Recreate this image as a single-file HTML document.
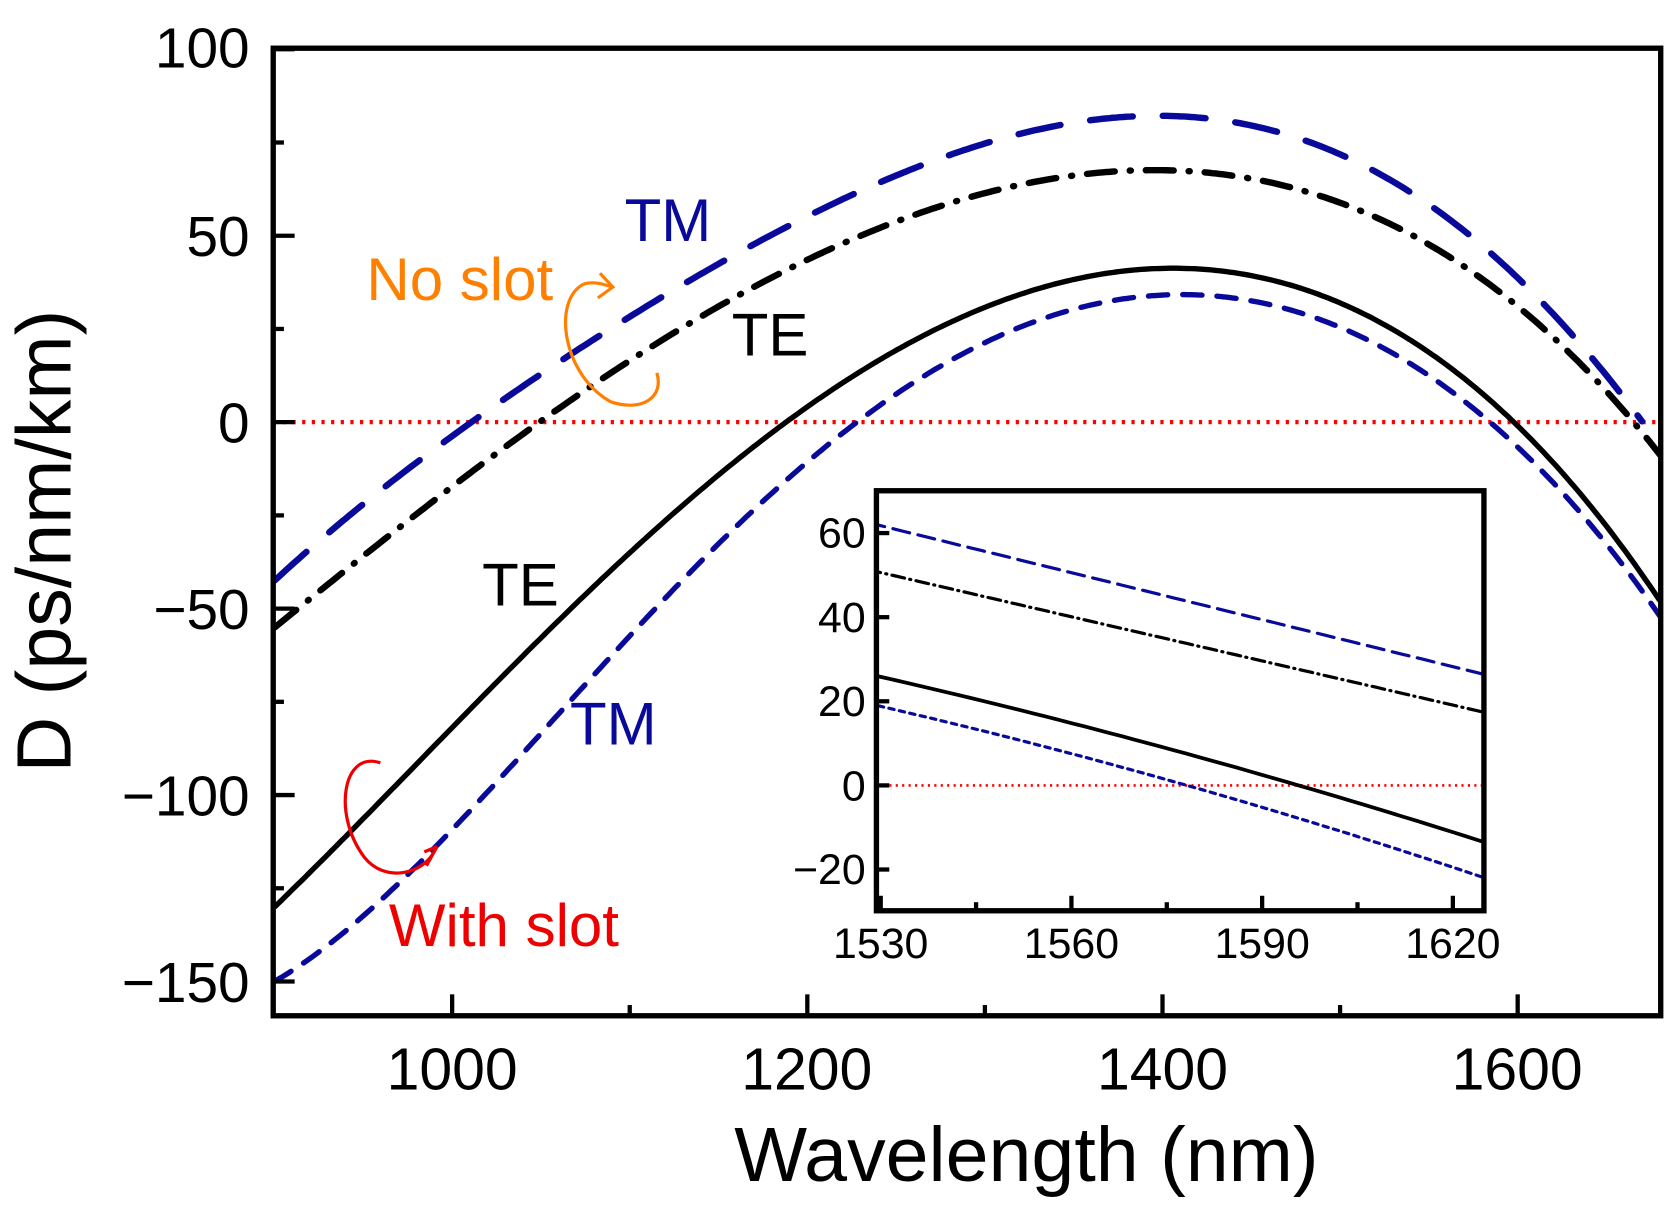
<!DOCTYPE html><html><head><style>html,body{margin:0;padding:0;background:#fff}svg{display:block}</style></head><body>
<svg id="s" width="1680" height="1214" viewBox="0 0 1568 1133" preserveAspectRatio="none" xmlns="http://www.w3.org/2000/svg" font-family="Liberation Sans, sans-serif">
<defs><clipPath id="mc"><rect x="255" y="45" width="1295" height="903"/></clipPath>
<clipPath id="ic"><rect x="818" y="458" width="567" height="392"/></clipPath></defs>
<g id="main" clip-path="url(#mc)"></g>
<rect x="255" y="45" width="1295" height="903" fill="none" stroke="#000" stroke-width="5"/>
<g id="ticks" stroke="#000" stroke-width="4"></g>
<g font-size="53" text-anchor="end">
<text x="233" y="63">100</text><text x="233" y="239">50</text><text x="233" y="413">0</text>
<text x="233" y="587">−50</text><text x="233" y="761">−100</text><text x="233" y="935">−150</text></g>
<g font-size="55" text-anchor="middle">
<text x="422" y="1017">1000</text><text x="753" y="1017">1200</text><text x="1085" y="1017">1400</text><text x="1416" y="1017">1600</text></g>
<text x="958" y="1102" font-size="72" text-anchor="middle">Wavelength (nm)</text>
<text transform="translate(66,505) rotate(-90)" font-size="72" text-anchor="middle">D (ps/nm/km)</text>
<text x="583" y="225" font-size="56" fill="#0a0a9a">TM</text>
<text x="342" y="280" font-size="56" fill="#ff8000">No slot</text>
<text x="683" y="332" font-size="56">TE</text>
<text x="450" y="565" font-size="56">TE</text>
<text x="532" y="695" font-size="56" fill="#0a0a9a">TM</text>
<text x="363" y="883" font-size="56" fill="#ee0000">With slot</text>
<path d="M545 265 C515 280 525 350 570 375 C600 385 620 370 613 348" fill="none" stroke="#ff8000" stroke-width="3"/>
<path d="M545 265 C555 262 565 266 572 268 M560 255 L572 268 L558 278" fill="none" stroke="#ff8000" stroke-width="3"/>
<path d="M355 712 C320 700 310 760 340 800 C360 825 395 815 405 795 M398 808 L408 790 M396 795 L408 790" fill="none" stroke="#ee0000" stroke-width="3"/>
<rect x="818" y="458" width="567" height="392" fill="#fff"/>
<g id="inset" clip-path="url(#ic)"></g>
<rect x="818" y="458" width="567" height="392" fill="none" stroke="#000" stroke-width="5"/>
<g id="iticks" stroke="#000" stroke-width="4"></g>
<g font-size="40" text-anchor="end"><text x="808" y="511">60</text><text x="808" y="590">40</text><text x="808" y="668">20</text><text x="808" y="747">0</text><text x="808" y="825">−20</text></g>
<g font-size="40" text-anchor="middle"><text x="822" y="894">1530</text><text x="1000" y="894">1560</text><text x="1178" y="894">1590</text><text x="1356" y="894">1620</text></g>
</svg>
<script>
var NS="http://www.w3.org/2000/svg";
function mk(p,t,a){var e=document.createElementNS(NS,t);for(var k in a)e.setAttribute(k,a[k]);p.appendChild(e);return e;}
function fit(pts,deg){var n=deg+1,A=[],b=[];for(var i=0;i<n;i++){A.push(new Array(n).fill(0));b.push(0);}
pts.forEach(function(p){var u=(p[0]-1290)/390;for(var i=0;i<n;i++){b[i]+=Math.pow(u,i)*p[1];for(var j=0;j<n;j++)A[i][j]+=Math.pow(u,i+j);}});
for(var c=0;c<n;c++){var piv=c;for(var r=c+1;r<n;r++)if(Math.abs(A[r][c])>Math.abs(A[piv][c]))piv=r;var t=A[c];A[c]=A[piv];A[piv]=t;t=b[c];b[c]=b[piv];b[piv]=t;
for(var r=0;r<n;r++){if(r==c)continue;var f=A[r][c]/A[c][c];for(var k=c;k<n;k++)A[r][k]-=f*A[c][k];b[r]-=f*b[c];}}
var co=b.map(function(v,i){return v/A[i][i]});return function(l){var u=(l-1290)/390,s=0;for(var i=0;i<n;i++)s+=co[i]*Math.pow(u,i);return s;};}
var mx=function(l){return 422+(l-1000)*1.6575},my=function(d){return 394-d*3.48};
var ix=function(l){return 822+(l-1530)*178/30},iy=function(d){return 733-d*3.925};
function drawF(g,f,l0,l1,X,Y,st){var q=[];for(var l=l0;l<=l1+0.01;l+=2)q.push(X(l).toFixed(1)+","+Y(f(l)).toFixed(1));st.points=q.join(" ");st.fill="none";st["stroke-linecap"]=st["stroke-linecap"]||"round";mk(g,"polyline",st);}
var B="#0a0a9a";
var M=document.getElementById("main");
mk(M,"line",{x1:255,x2:1550,y1:394,y2:394,stroke:"#f00","stroke-width":4,"stroke-dasharray":"3 6"});
var f1=fit([[900,-42],[950,-23],[1010,0],[1100,29],[1200,55],[1300,74],[1380,82],[1450,80],[1530,65],[1600,38],[1640,18],[1671,0]],5);
var f2=fit([[900,-55],[950,-36],[1050,0],[1150,32],[1250,53],[1300,61],[1390,68],[1460,65],[1540,50],[1600,30],[1640,14],[1668,0],[1680,-10]],5);
var f3=fit([[900,-130],[1000,-82],[1100,-35],[1187,0],[1300,30],[1350,38],[1405,42],[1440,41],[1477,36],[1534,22],[1600,0],[1680,-48]],5);
var f4=fit([[900,-150],[1000,-109],[1100,-58],[1224,0],[1300,20],[1350,30],[1415,35],[1450,33],[1477,29],[1528,18.5],[1585,0],[1680,-52]],5);
drawF(M,f1,900,1671,mx,my,{stroke:B,"stroke-width":6,"stroke-dasharray":"40 28"});
drawF(M,f2,900,1680,mx,my,{stroke:"#000","stroke-width":6,"stroke-dasharray":"26 14 1 14"});
drawF(M,f3,900,1680,mx,my,{stroke:"#000","stroke-width":5,"stroke-linecap":"butt"});
drawF(M,f4,900,1680,mx,my,{stroke:B,"stroke-width":5,"stroke-dasharray":"18 14"});
var T=document.getElementById("ticks");
[1000,1200,1400,1600].forEach(function(l){mk(T,"line",{x1:mx(l),x2:mx(l),y1:948,y2:928});});
[1100,1300,1500].forEach(function(l){mk(T,"line",{x1:mx(l),x2:mx(l),y1:948,y2:938});});
[100,50,0,-50,-100,-150].forEach(function(d){mk(T,"line",{x1:255,x2:275,y1:my(d),y2:my(d)});});
[75,25,-25,-75,-125].forEach(function(d){mk(T,"line",{x1:255,x2:265,y1:my(d),y2:my(d)});});
var I=document.getElementById("inset");
mk(I,"line",{x1:818,x2:1385,y1:733,y2:733,stroke:"#f00","stroke-width":2.5,"stroke-dasharray":"2 4"});
function lin(a,b){return function(l){return a+(b-a)*(l-1528)/98};}
function quad(a,m,b){return function(l){var t=(l-1528)/98;return a*(1-t)*(1-2*t)+4*m*t*(1-t)+b*t*(2*t-1);};}
drawF(I,lin(62.5,26),1528,1626,ix,iy,{stroke:B,"stroke-width":3,"stroke-dasharray":"16 8"});
drawF(I,lin(51.3,17),1528,1626,ix,iy,{stroke:"#000","stroke-width":3,"stroke-dasharray":"12 5 1 5"});
drawF(I,quad(26.5,8,-14),1528,1626,ix,iy,{stroke:"#000","stroke-width":3.5});
drawF(I,quad(19.5,0.5,-22.5),1528,1626,ix,iy,{stroke:B,"stroke-width":3,"stroke-dasharray":"5 5"});
var IT=document.getElementById("iticks");
[1530,1545,1560,1575,1590,1605,1620].forEach(function(l,i){mk(IT,"line",{x1:ix(l),x2:ix(l),y1:850,y2:i%2?842:836});});
[60,40,20,0,-20].forEach(function(d){mk(IT,"line",{x1:818,x2:830,y1:iy(d),y2:iy(d)});});
</script>
</body></html>
